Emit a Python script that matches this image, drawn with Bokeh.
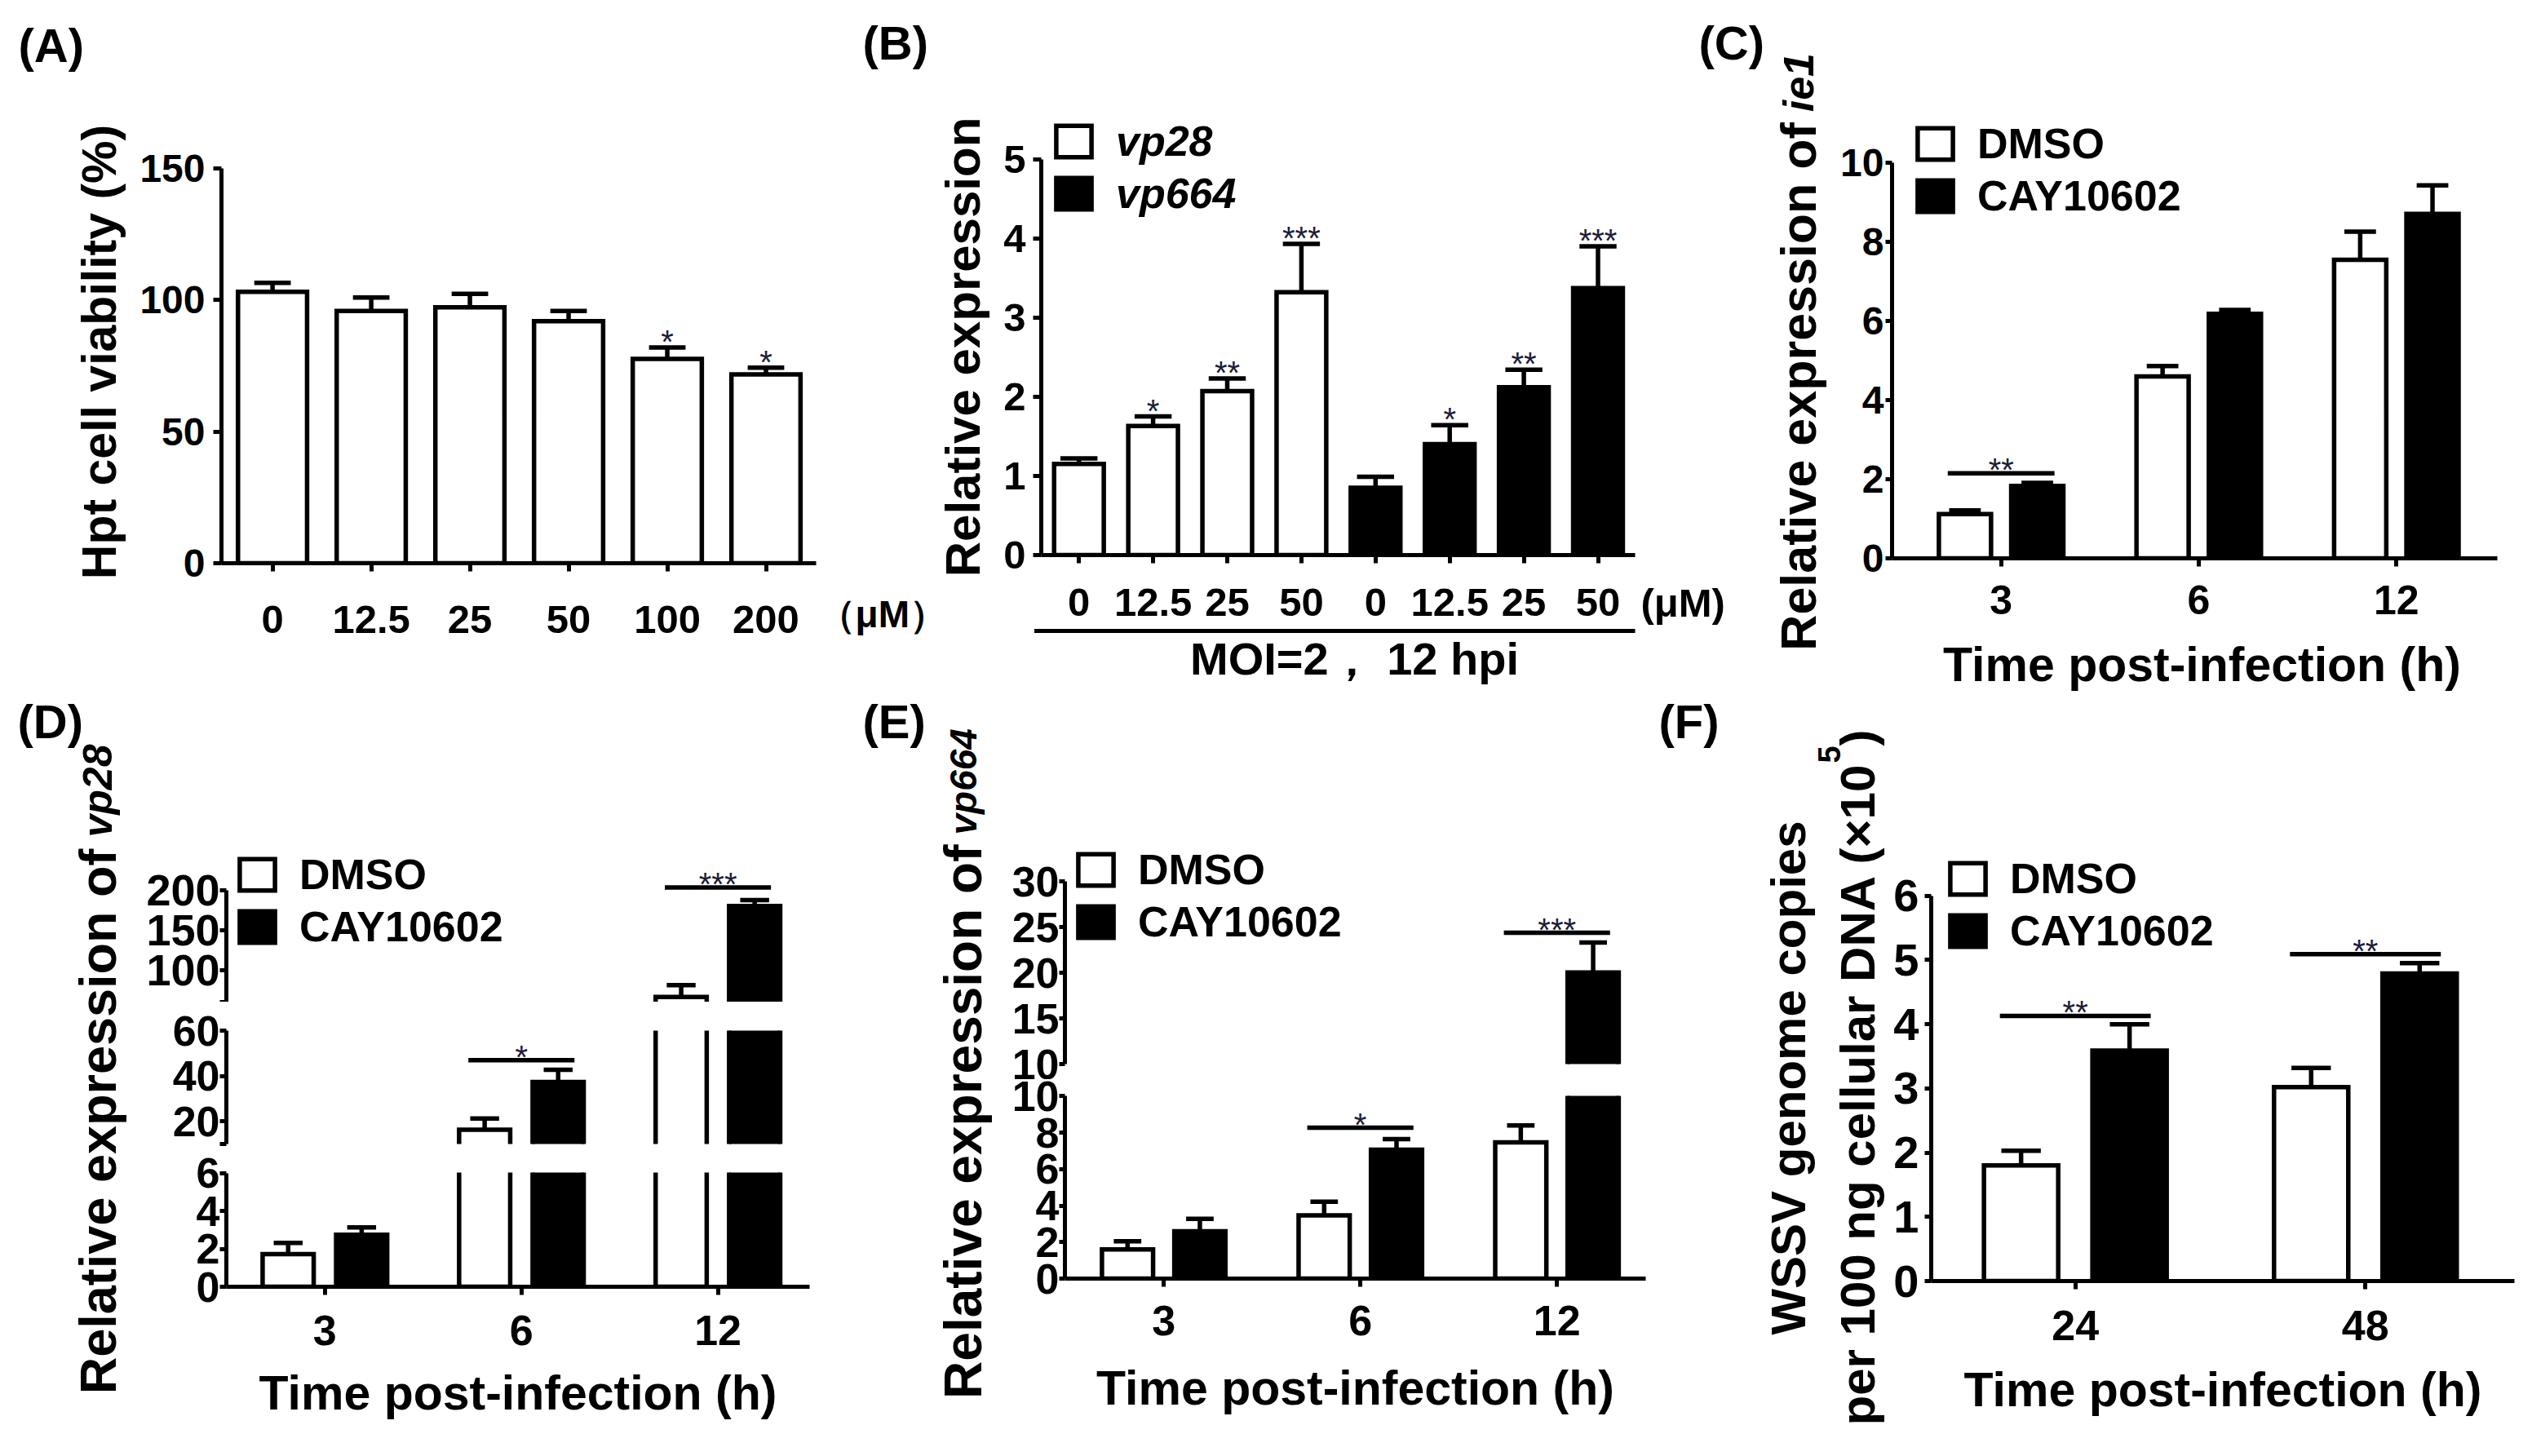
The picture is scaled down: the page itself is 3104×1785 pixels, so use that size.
import math
from bokeh.plotting import figure
from bokeh.models import Range1d, FixedTicker, Label, Legend, LegendItem, ColumnDataSource
from bokeh.layouts import row, column
from bokeh.embed import file_html
from bokeh.resources import INLINE
from bokeh.core.properties import value

# ---------------- data ----------------
# (A) cell viability
a_conc = ["0", "12.5", "25", "50", "100", "200"]
a_viab = [103.2, 95.9, 97.3, 92.0, 77.7, 71.8]
a_err = [3.4, 5.1, 5.1, 3.9, 4.3, 2.5]
a_sig = ["", "", "", "", "*", "*"]
# (B) relative expression, MOI=2, 12 hpi
b_conc = ["0", "12.5", "25", "50"]
b_vp28 = [1.15, 1.63, 2.07, 3.32]
b_vp28_err = [0.07, 0.12, 0.16, 0.61]
b_vp28_sig = ["", "*", "**", "***"]
b_vp664 = [0.85, 1.40, 2.12, 3.37]
b_vp664_err = [0.14, 0.24, 0.22, 0.53]
b_vp664_sig = ["", "*", "**", "***"]
# (C) ie1
hours_cde = ["3", "6", "12"]
c_dmso = [1.12, 4.60, 7.55]
c_dmso_err = [0.09, 0.26, 0.71]
c_cay = [1.83, 6.18, 8.71]
c_cay_err = [0.08, 0.10, 0.72]
c_sig_group = [0]
c_sig_y = [2.15]
c_sig_text = ["**"]
# (D) vp28
d_dmso = [1.72, 16.3, 66.5]
d_dmso_err = [0.59, 5.0, 14.6]
d_cay = [2.74, 37.4, 180.5]
d_cay_err = [0.39, 5.4, 7.3]
d_sig_group = [1, 2]
d_sig_y = [47.1, 203.7]
d_sig_text = ["*", "***"]
# (E) vp664
e_dmso = [1.60, 3.47, 7.47]
e_dmso_err = [0.45, 0.74, 0.93]
e_cay = [2.59, 7.07, 20.03]
e_cay_err = [0.69, 0.58, 3.30]
e_sig_group = [1, 2]
e_sig_y = [8.27, 24.4]
e_sig_text = ["*", "***"]
# (F) WSSV genome copies
hours_f = ["24", "48"]
f_dmso = [1.80, 3.02]
f_dmso_err = [0.23, 0.30]
f_cay = [3.59, 4.79]
f_cay_err = [0.41, 0.16]
f_sig_group = [0, 1]
f_sig_y = [4.13, 5.09]
f_sig_text = ["**", "**"]

# ---------------- style ----------------
FONT = "Liberation Sans"
INK = "black"
STAR = "#1c1c38"
LW = 5.5
AXW = 5
ROT = math.pi / 2
XTITLE = "Time post-infection (h)"


class Geo:
    """canvas (cx0,cy0)-(cx1,cy1) and frame L,T,R,B in window pixels."""
    def __init__(self, cx0, cy0, cx1, cy1, L=None, T=None, R=None, B=None,
                 xref=None, yref=None, ylo=None):
        self.cx0, self.cy0, self.cx1, self.cy1 = cx0, cy0, cx1, cy1
        if L is None:  # text strip: frame = canvas, data = window pixels
            L, T, R, B = cx0, cy0, cx1, cy1
            xref = ((cx0, cx0), (cx1, cx1))
            yref = ((cy0, cy0), (cy1, cy1))
        self.L, self.T, self.R, self.B = L, T, R, B
        (xa, pa), (xb, pb) = xref
        upx = (xb - xa) / (pb - pa)
        self.x0 = xa + (L - pa) * upx
        self.x1 = xa + (R - pa) * upx
        (ya, qa), (yb, qb) = yref
        upy = (yb - ya) / (qa - qb)
        if ylo is None:
            ylo = ya + (qa - B) * upy
        self.y0 = ylo
        self.y1 = ylo + (B - T) * upy

    def d(self, sx, sy):
        x = self.x0 + (sx - self.L) * (self.x1 - self.x0) / (self.R - self.L)
        y = self.y0 + (self.B - sy) * (self.y1 - self.y0) / (self.B - self.T)
        return x, y


def mkfig(g, xaxis=True, yaxis=True):
    p = figure(width=g.cx1 - g.cx0, height=g.cy1 - g.cy0,
               x_range=Range1d(g.x0, g.x1), y_range=Range1d(g.y0, g.y1),
               min_border_left=g.L - g.cx0, min_border_right=g.cx1 - g.R,
               min_border_top=g.T - g.cy0, min_border_bottom=g.cy1 - g.B,
               x_axis_location="below" if xaxis else None,
               y_axis_location="left" if yaxis else None,
               output_backend="svg", toolbar_location=None, tools="",
               outline_line_color=None, background_fill_color="white",
               border_fill_color="white")
    p.grid.visible = False
    try:
        p.frame_align = False
    except Exception:
        pass
    return p


def strip(cx0, cy0, cx1, cy1):
    g = Geo(cx0, cy0, cx1, cy1)
    return mkfig(g, xaxis=False, yaxis=False), g


def common_axis(ax, size, out, standoff):
    ax.axis_line_width = AXW
    ax.axis_line_color = INK
    ax.major_tick_line_width = AXW
    ax.major_tick_line_color = INK
    ax.major_tick_in = 0
    ax.major_tick_out = out
    ax.minor_tick_line_color = None
    ax.major_label_text_font = FONT
    ax.major_label_text_font_style = "bold"
    ax.major_label_text_font_size = f"{size}px"
    ax.major_label_text_color = INK
    ax.major_label_standoff = standoff


def yax(p, ticks, bounds, size, out, standoff, overrides=None):
    ax = p.yaxis[0]
    ax.ticker = FixedTicker(ticks=ticks)
    ax.bounds = bounds
    common_axis(ax, size, out, standoff)
    if overrides:
        ax.major_label_overrides = overrides


def xax(p, labels, size, out, standoff, title=None, title_standoff=10):
    ax = p.xaxis[0]
    ax.ticker = FixedTicker(ticks=list(range(len(labels))))
    ax.major_label_overrides = {i: s for i, s in enumerate(labels)}
    common_axis(ax, size, out, standoff)
    if title:
        ax.axis_label = title
        ax.axis_label_text_font = FONT
        ax.axis_label_text_font_style = "bold"
        ax.axis_label_text_font_size = "59px"
        ax.axis_label_text_color = INK
        ax.axis_label_standoff = title_standoff


def bars(p, xs, tops, width, fill):
    src = ColumnDataSource(dict(x=xs, top=tops))
    return p.vbar(x="x", top="top", bottom=0, width=width, source=src,
                  fill_color=fill, line_color=INK, line_width=LW, line_join="miter")


def poly_bars(p, xs, tops, width, fill):
    """bars as polygons so that a broken axis cuts them cleanly."""
    h = width / 2
    return p.patches(xs=[[x - h, x - h, x + h, x + h] for x in xs],
                     ys=[[0, t, t, 0] for t in tops],
                     fill_color=fill, line_color=INK, line_width=LW, line_join="miter")


def errbars(p, xs, tops, errs, cap):
    hi = [t + e for t, e in zip(tops, errs)]
    src = ColumnDataSource(dict(x=xs, y0=tops, y1=hi,
                                xl=[x - cap / 2 for x in xs], xr=[x + cap / 2 for x in xs]))
    p.segment(x0="x", y0="y0", x1="x", y1="y1", source=src, line_color=INK, line_width=LW)
    p.segment(x0="xl", y0="y1", x1="xr", y1="y1", source=src, line_color=INK, line_width=LW)


def stars(p, xs, ys, texts, yoff):
    src = ColumnDataSource(dict(x=list(xs), y=list(ys), t=list(texts)))
    p.text(x="x", y="y", text="t", source=src, text_align="center",
           text_baseline="alphabetic", y_offset=yoff, text_color=STAR,
           text_font=value(FONT), text_font_size=value("40px"))


def siglines(p, g, groups, ys, texts, half):
    src = ColumnDataSource(dict(x0=[c - half for c in groups], x1=[c + half for c in groups], y=ys))
    p.segment(x0="x0", y0="y", x1="x1", y1="y", source=src, line_color=INK, line_width=LW)
    # a mark is written only in the axis segment that holds its bracket
    keep = [i for i, y in enumerate(ys) if g.y0 <= y <= g.y1]
    if keep:
        stars(p, [groups[i] for i in keep], [ys[i] for i in keep], [texts[i] for i in keep], yoff=-4)


def lab(p, g, sx, sy, text, size, style="bold", align="left", angle=0.0):
    x, y = g.d(sx, sy)
    p.add_layout(Label(x=x, y=y, text=text, text_font=FONT, text_font_size=f"{size}px",
                       text_font_style=style, text_align=align, text_baseline="middle",
                       angle=angle, text_color=INK))


def legend(p, g, r1, r2, l1, l2, left, top, italic=False):
    fs = 52
    item_h = round(fs * 1.15)
    gh = 48
    sp = 4
    leg = Legend(items=[LegendItem(label=value(l1), renderers=[r1]),
                        LegendItem(label=value(l2), renderers=[r2])],
                 location=(left - g.L, g.B - (top + 2 * item_h + sp)),
                 orientation="vertical", glyph_width=54, glyph_height=gh,
                 label_standoff=25, spacing=sp, padding=0, margin=0,
                 label_text_font=FONT, label_text_font_size=f"{fs}px",
                 label_text_font_style="bold italic" if italic else "bold",
                 label_text_color=INK, label_height=gh,
                 border_line_color=None, background_fill_alpha=0)
    p.add_layout(leg)


# ================= TOP ROW (window y 8..858) =================
# ---- (A)
pAl, gAl = strip(8, 8, 170, 858)
lab(pAl, gAl, 30, 63, "(A)", 58)
lab(pAl, gAl, 129.5, 439, "Hpt cell viability (%)", 59, align="center", angle=ROT)

gA = Geo(170, 8, 1010, 858, 279, 40, 1008, 698, ((0, 341.6), (5, 946.5)), ((0, 697.7), (150, 213.9)), ylo=0)
pA = mkfig(gA)
xa = list(range(len(a_conc)))
bars(pA, xa, a_viab, 0.70, "white")
errbars(pA, xa, a_viab, a_err, 0.37)
stars(pA, xa, [v + e for v, e in zip(a_viab, a_err)], a_sig, yoff=-7)
yax(pA, [0, 50, 100, 150], (0, 150), 48, 10, 10)
xax(pA, a_conc, 49, 10, 42)

# strip between (A) and (B): unit of (A), letter (B), y title of (B)
pAB, gAB = strip(1010, 8, 1230, 858)
lab(pAB, gAB, 1010, 760, "（μM）", 46)
lab(pAB, gAB, 1065, 60, "(B)", 58)
lab(pAB, gAB, 1188, 433, "Relative expression", 60, align="center", angle=ROT)

# ---- (B)
gB = Geo(1230, 8, 2015, 778, 1284, 40, 2012, 688, ((0, 1330.2), (7, 1966.5)), ((0, 688.4), (5, 203)), ylo=0)
pB = mkfig(gB)
n = len(b_conc)
xb1 = list(range(n))
xb2 = list(range(n, 2 * n))
rB1 = bars(pB, xb1, b_vp28, 0.67, "white")
rB2 = bars(pB, xb2, b_vp664, 0.67, "black")
errbars(pB, xb1, b_vp28, b_vp28_err, 0.5)
errbars(pB, xb2, b_vp664, b_vp664_err, 0.5)
stars(pB, xb1, [v + e for v, e in zip(b_vp28, b_vp28_err)], b_vp28_sig, yoff=-7)
stars(pB, xb2, [v + e for v, e in zip(b_vp664, b_vp664_err)], b_vp664_sig, yoff=-7)
yax(pB, [0, 1, 2, 3, 4, 5], (0, 5), 49, 10, 9)
xax(pB, b_conc + b_conc, 49, 10, 31)
legend(pB, gB, rB1, rB2, "vp28", "vp664", 1297, 151, italic=True)

pBb, gBb = strip(1230, 778, 2015, 858)
pBb.segment(x0=[1275.5], y0=[781], x1=[2012], y1=[781], line_color=INK, line_width=AXW)
lab(pBb, gBb, 1668, 815, "MOI=2， 12 hpi", 56, align="center")

# strip between (B) and (C): unit of (B), letter (C), y title of (C)
pBC, gBC = strip(2015, 8, 2250, 858)
lab(pBC, gBC, 2019, 746, "(μM)", 49)
lab(pBC, gBC, 2090, 60, "(C)", 58)
lab(pBC, gBC, 2212, 157.6, "Relative expression of", 61, align="right", angle=ROT)
lab(pBC, gBC, 2212, 144.8, "ie1", 52, style="bold italic", align="left", angle=ROT)

# ---- (C)
gC = Geo(2250, 8, 3096, 780, 2327, 40, 3069, 692, ((0, 2460.7), (2, 2945.2)), ((0, 692.2), (10, 207.3)), ylo=0)
pC = mkfig(gC)
OC, WC = 0.183, 0.264
xc = list(range(len(hours_cde)))
xcw = [x - OC for x in xc]
xck = [x + OC for x in xc]
rC1 = bars(pC, xcw, c_dmso, WC, "white")
rC2 = bars(pC, xck, c_cay, WC, "black")
errbars(pC, xcw, c_dmso, c_dmso_err, 0.16)
errbars(pC, xck, c_cay, c_cay_err, 0.16)
siglines(pC, gC, c_sig_group, c_sig_y, c_sig_text, 0.27)
yax(pC, [0, 2, 4, 6, 8, 10], (0, 10), 48, 8, 2)
xax(pC, hours_cde, 50, 10, 23)
legend(pC, gC, rC1, rC2, "DMSO", "CAY10602", 2353, 154)

pCb, gCb = strip(2250, 780, 3096, 858)
lab(pCb, gCb, 2707, 822, XTITLE, 59, align="center")

# ================= BOTTOM ROW (window y 858..1777) =================
# ---- (D)
pDl, gDl = strip(8, 858, 170, 1777)
lab(pDl, gDl, 29, 892, "(D)", 58)
lab(pDl, gDl, 127, 1048, "Relative expression of", 63, align="right", angle=ROT)
lab(pDl, gDl, 127, 1034, "vp28", 50, style="bold italic", align="left", angle=ROT)

OD, WD = 0.187, 0.26
xd = list(range(len(hours_cde)))
xdw = [x - OD for x in xd]
xdk = [x + OD for x in xd]
dx_ref = ((0, 405.8), (2, 887.6))
gD1 = Geo(170, 858, 1050, 1236, 285, 1040, 1000, 1236, dx_ref, ((100, 1197.1), (200, 1099.3)), ylo=60)
gD2 = Geo(170, 1236, 1050, 1414, 285, 1271, 1000, 1410, dx_ref, ((20, 1382.5), (60, 1271.6)), ylo=10)
gD3 = Geo(170, 1414, 1050, 1777, 285, 1445, 1000, 1585, dx_ref, ((0, 1584.6), (6, 1445.1)), ylo=0)
pD1 = mkfig(gD1, xaxis=False)
pD2 = mkfig(gD2, xaxis=False)
pD3 = mkfig(gD3)
legD = None
for p, g in ((pD1, gD1), (pD2, gD2), (pD3, gD3)):
    rw = poly_bars(p, xdw, d_dmso, WD, "white")
    rk = poly_bars(p, xdk, d_cay, WD, "black")
    errbars(p, xdw, d_dmso, d_dmso_err, 0.147)
    errbars(p, xdk, d_cay, d_cay_err, 0.147)
    siglines(p, g, d_sig_group, d_sig_y, d_sig_text, 0.27)
    if legD is None:
        legD = (rw, rk)
legend(pD1, gD1, legD[0], legD[1], "DMSO", "CAY10602", 296, 1050)
yax(pD1, [60, 100, 150, 200], (60, 200), 54, 8, 0, {60: ""})
yax(pD2, [10, 20, 40, 60], (10, 60), 52, 8, 0, {10: ""})
yax(pD3, [0, 2, 4, 6], (0, 6), 52, 8, 0)
xax(pD3, hours_cde, 52, 10, 25, XTITLE, 23)

# ---- (E)
pEl, gEl = strip(1050, 858, 1228, 1777)
lab(pEl, gEl, 1065, 892, "(E)", 58)
lab(pEl, gEl, 1188, 1043, "Relative expression of", 64, align="right", angle=ROT)
lab(pEl, gEl, 1188, 1031, "vp664", 46, style="bold italic", align="left", angle=ROT)

OE, WE = 0.184, 0.26
xe = list(range(len(hours_cde)))
xew = [x - OE for x in xe]
xek = [x + OE for x in xe]
ex_ref = ((0, 1434.1), (2, 1916.2))
gE1 = Geo(1228, 858, 2034, 1331, 1313, 1030, 2025, 1312, ex_ref, ((10, 1312.1), (30, 1088.5)), ylo=10)
gE2 = Geo(1228, 1331, 2034, 1777, 1313, 1351, 2025, 1575, ex_ref, ((0, 1574.5), (10, 1350.9)), ylo=0)
pE1 = mkfig(gE1, xaxis=False)
pE2 = mkfig(gE2)
legE = None
for p, g in ((pE1, gE1), (pE2, gE2)):
    rw = poly_bars(p, xew, e_dmso, WE, "white")
    rk = poly_bars(p, xek, e_cay, WE, "black")
    errbars(p, xew, e_dmso, e_dmso_err, 0.14)
    errbars(p, xek, e_cay, e_cay_err, 0.14)
    siglines(p, g, e_sig_group, e_sig_y, e_sig_text, 0.27)
    if legE is None:
        legE = (rw, rk)
legend(pE1, gE1, legE[0], legE[1], "DMSO", "CAY10602", 1324, 1044)
yax(pE1, [10, 15, 20, 25, 30], (10, 30), 52, 7, 0)
yax(pE2, [0, 2, 4, 6, 8, 10], (0, 10), 52, 7, 0)
xax(pE2, hours_cde, 52, 10, 23, XTITLE, 29)

# ---- (F)
pFl, gFl = strip(2034, 858, 2326, 1777)
lab(pFl, gFl, 2041, 892, "(F)", 58)
lab(pFl, gFl, 2200, 1329, "WSSV genome copies", 60, align="center", angle=ROT)
lab(pFl, gFl, 2285, 943, "per 100 ng cellular DNA (×10", 60, align="right", angle=ROT)
lab(pFl, gFl, 2250, 943, "5", 38, align="left", angle=ROT)
lab(pFl, gFl, 2285, 922, ")", 60, align="left", angle=ROT)

gF = Geo(2326, 858, 3096, 1777, 2374, 1040, 3090, 1578, ((0, 2550.9), (1, 2907)), ((0, 1577.5), (6, 1105.2)), ylo=0)
pF = mkfig(gF)
OF, WF = 0.187, 0.256
xf = list(range(len(hours_f)))
xfw = [x - OF for x in xf]
xfk = [x + OF for x in xf]
rF1 = bars(pF, xfw, f_dmso, WF, "white")
rF2 = bars(pF, xfk, f_cay, WF, "black")
errbars(pF, xfw, f_dmso, f_dmso_err, 0.136)
errbars(pF, xfk, f_cay, f_cay_err, 0.136)
siglines(pF, gF, f_sig_group, f_sig_y, f_sig_text, 0.26)
yax(pF, [0, 1, 2, 3, 4, 5, 6], (0, 6), 56, 8, 7)
xax(pF, hours_f, 52, 10, 26, XTITLE, 25)
legend(pF, gF, rF1, rF2, "DMSO", "CAY10602", 2392, 1055)

# ================= layout =================
top = row(pAl, pA, pAB, column(pB, pBb), pBC, column(pC, pCb))
bottom = row(pDl, column(pD1, pD2, pD3), pEl, column(pE1, pE2), pFl, pF)
page = column(top, bottom)

open("out.html", "w").write(file_html(page, INLINE, title="CAY10602 figure"))
